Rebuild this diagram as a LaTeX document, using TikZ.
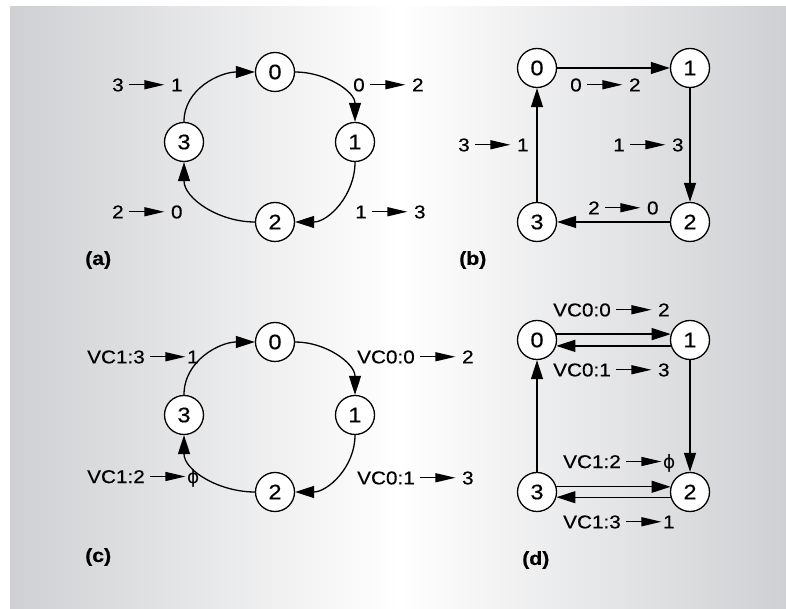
\documentclass[tikz,border=0pt]{standalone}
\usepackage{fontspec}
\setmainfont{Liberation Sans}[FakeStretch=1.12,FakeBold=0.4]
\newfontfamily\dvfont{DejaVu Sans}
\usetikzlibrary{arrows.meta}
\definecolor{bgedge}{HTML}{CFD0D3}
\newcommand{\tarr}[1][6pt]{\hspace{5pt}\tikz[baseline=0pt]\draw[line width=1.3pt,-{Triangle[length=20pt,width=9pt]}] (0pt,6.6pt)--(35pt,6.6pt);\hspace{#1}}
\begin{document}
\begin{tikzpicture}[x=1pt,y=1pt,
  vtx/.style={circle,draw,fill=white,line width=1.3pt,minimum size=39pt,inner sep=0pt,font=\fontsize{21}{23}\selectfont},
  lbl/.style={anchor=west,inner sep=0pt,font=\fontsize{18.5}{20}\selectfont},
  tag/.style={anchor=west,inner sep=0pt,font=\fontsize{19}{21}\selectfont\bfseries},
  conn/.style={line width=1.3pt,-{Triangle[length=19pt,width=12pt]}}]
\useasboundingbox (0,0) rectangle (786,609);
\fill[white] (0,0) rectangle (786,609);
\shade[left color=bgedge,right color=bgedge,middle color=white] (10,0) rectangle (786,602);
% (a)
\node[vtx] (a0) at (275,537) {0};
\node[vtx] (a1) at (355,467) {1};
\node[vtx] (a2) at (275,387) {2};
\node[vtx] (a3) at (184,467) {3};
\draw[conn] (a0) to[out=0,in=90] (a1);
\draw[conn] (a1) to[out=-90,in=0] (a2);
\draw[conn] (a2) to[out=180,in=-90] (a3);
\draw[conn] (a3) to[out=90,in=180] (a0);
\node[lbl] (la31) at (112,524) {3\tarr1};
\node[lbl] (la02) at (353,524) {0\tarr2};
\node[lbl] (la20) at (112,397) {2\tarr0};
\node[lbl] (la13) at (355,397) {1\tarr3};
\node[tag] (ta) at (85,349) {(a)};
% (b)
\node[vtx] (b0) at (537,541) {0};
\node[vtx] (b1) at (690,541) {1};
\node[vtx] (b2) at (690,387) {2};
\node[vtx] (b3) at (537,387) {3};
\draw[conn] (b0) -- (b1);
\draw[conn] (b1) -- (b2);
\draw[conn] (b2) -- (b3);
\draw[conn] (b3) -- (b0);
\node[lbl] (lb02) at (570,524) {0\tarr2};
\node[lbl] (lb13) at (613,464) {1\tarr3};
\node[lbl] (lb31) at (458,464) {3\tarr1};
\node[lbl] (lb20) at (588,401) {2\tarr0};
\node[tag] (tb) at (459,349) {(b)};
% (c)
\node[vtx] (c0) at (275,267) {0};
\node[vtx] (c1) at (355,194) {1};
\node[vtx] (c2) at (275,117) {2};
\node[vtx] (c3) at (184,194) {3};
\draw[conn] (c0) to[out=0,in=90] (c1);
\draw[conn] (c1) to[out=-90,in=0] (c2);
\draw[conn] (c2) to[out=180,in=-90] (c3);
\draw[conn] (c3) to[out=90,in=180] (c0);
\node[lbl] (lc13) at (87,252) {VC1:3\tarr[1pt]1};
\node[lbl] (lc00) at (357,252) {VC0:0\tarr2};
\node[lbl] (lc12) at (87,131) {VC1:2\tarr[1pt]{\dvfont ϕ}};
\node[lbl] (lc01) at (357,131) {VC0:1\tarr3};
\node[tag] (tc) at (85,52) {(c)};
% (d)
\node[vtx] (d0) at (537,269) {0};
\node[vtx] (d1) at (690,269) {1};
\node[vtx] (d2) at (690,117) {2};
\node[vtx] (d3) at (537,117) {3};
\draw[conn] (d0.17) -- (d1.163);
\draw[conn] (d1.-163) -- (d0.-17);
\draw[conn] (d1) -- (d2);
\draw[conn] (d3.15) -- (d2.165);
\draw[conn] (d2.-165) -- (d3.-15);
\draw[conn] (d3) -- (d0);
\node[lbl] (ld00) at (553,299) {VC0:0\tarr2};
\node[lbl] (ld01) at (553,239) {VC0:1\tarr3};
\node[lbl] (ld12) at (563,146) {VC1:2\tarr[1pt]{\dvfont ϕ}};
\node[lbl] (ld13) at (563,87) {VC1:3\tarr[1pt]1};
\node[tag] (td) at (522,49) {(d)};
\end{tikzpicture}
\end{document}
